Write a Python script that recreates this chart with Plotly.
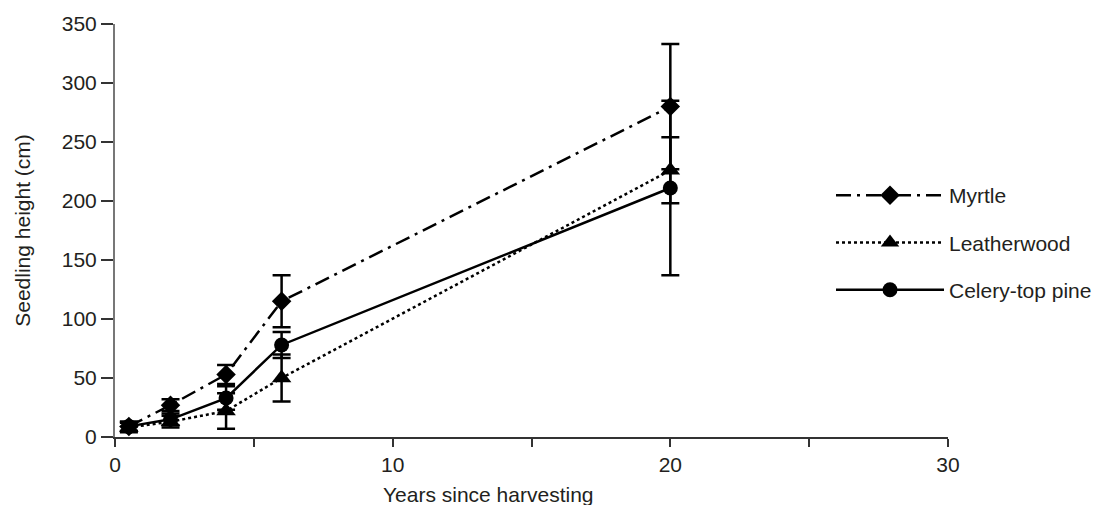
import plotly.graph_objects as go

years = [0.5, 2, 4, 6, 20]
myrtle = [9, 27, 53, 115, 280]
myrtle_err = [4, 5, 8, 22, 53]
leatherwood = [8, 13, 22, 50, 226]
leatherwood_err = [4, 5, 15, 20, 28]
celery = [9, 15, 33, 78, 211]
celery_err = [4, 5, 10, 11, 74]

series = [
    ("Myrtle", myrtle, myrtle_err, "longdashdot", "diamond", 15),
    ("Leatherwood", leatherwood, leatherwood_err, "dot", "triangle-up", 17),
    ("Celery-top pine", celery, celery_err, "solid", "circle", 15),
]

fig = go.Figure()
for name, ys, es, dash, sym, size in series:
    fig.add_trace(go.Scatter(
        x=years, y=ys, name=name, legendgroup=name, mode="lines+markers",
        line=dict(color="black", width=2.5, dash=dash),
        marker=dict(symbol=sym, size=size, color="black"),
        error_y=dict(type="data", array=es, visible=True, color="black",
                     thickness=2.5, width=9),
    ))

font = "Liberation Sans, Arial, sans-serif"
fig.update_layout(
    width=1116, height=505,
    margin=dict(l=115, r=168, t=24, b=68),
    paper_bgcolor="white", plot_bgcolor="white",
    font=dict(family=font, size=21, color="#231f20"),
    showlegend=True,
    legend=dict(x=(831 - 115) / 833, y=(437 - 175) / 413, xanchor="left", yanchor="top",
                itemwidth=108, tracegroupgap=17, traceorder="grouped",
                bgcolor="rgba(0,0,0,0)",
                font=dict(size=21, family=font)),
    xaxis=dict(range=[0, 30], tickvals=[0, 5, 10, 15, 20, 25, 30],
               ticktext=["0", "", "10", "", "20", "", "30"],
               showgrid=False, zeroline=False, showline=True,
               linecolor="#333", linewidth=1.5, ticks="outside",
               ticklen=8, tickcolor="#333", tickwidth=1.5,
               tickfont=dict(size=21)),
    yaxis=dict(range=[0, 350], tickvals=[0, 50, 100, 150, 200, 250, 300, 350],
               showgrid=False, zeroline=False, showline=True,
               linecolor="#777", linewidth=2, ticks="outside",
               ticklen=12, tickcolor="#333", tickwidth=1.5,
               tickfont=dict(size=21),
               title=dict(text="Seedling height (cm)", font=dict(size=21), standoff=25)),
    annotations=[dict(text="Years since harvesting", xref="paper", yref="paper",
                      x=(488 - 115) / 833, y=(437 - 495) / 413, xanchor="center",
                      yanchor="middle", showarrow=False, font=dict(size=21))],
)

fig.write_html("out.html", config={"displayModeBar": False},
               post_script="document.body.style.margin='0';document.body.style.overflow='hidden';")
